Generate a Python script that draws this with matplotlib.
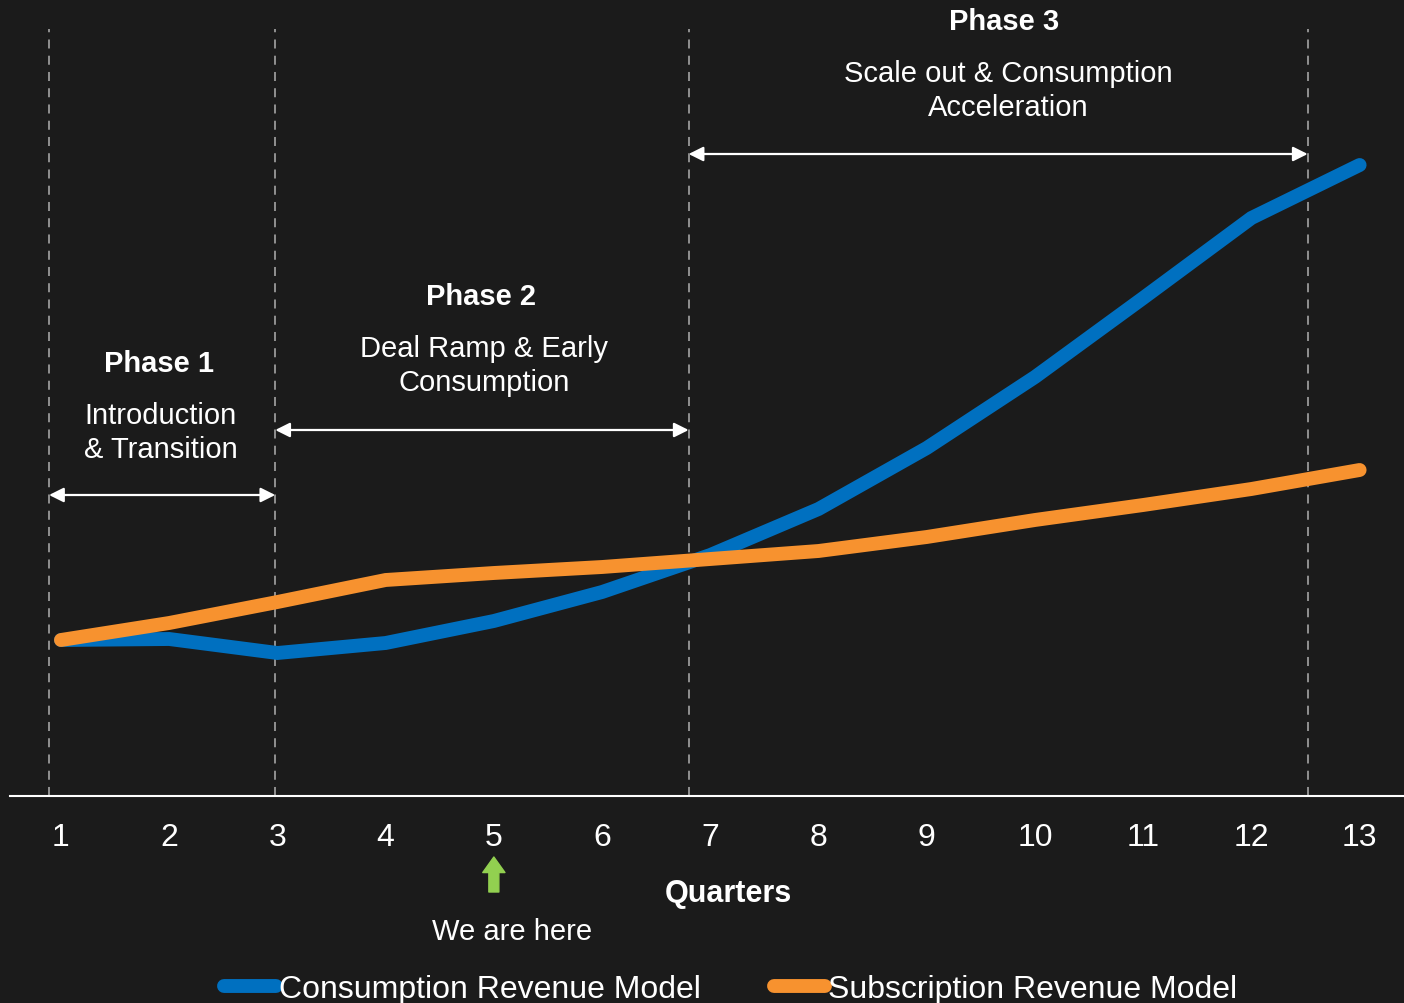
import matplotlib.pyplot as plt
from matplotlib.lines import Line2D

# data (revenue index)
quarters = list(range(1, 14))
consumption = [15.6, 15.7, 14.3, 15.3, 17.5, 20.4, 24.1, 28.7, 34.8, 41.9, 49.8, 57.8, 63.1]
subscription = [15.6, 17.3, 19.4, 21.6, 22.3, 22.9, 23.7, 24.5, 25.9, 27.6, 29.1, 30.7, 32.6]

phase_bounds = [0.89, 2.98, 6.80, 12.52]
phase_titles = ['Phase 1', 'Phase 2', 'Phase 3']
phase_texts = ['Introduction\n& Transition', 'Deal Ramp & Early\nConsumption',
               'Scale out & Consumption\nAcceleration']

bg = '#1b1b1b'
blue = '#0070c0'
orange = '#f7922f'
narrow = ['Liberation Sans Narrow', 'Liberation Sans', 'DejaVu Sans']
wide = ['Liberation Sans', 'DejaVu Sans']

fig = plt.figure(figsize=(14.04, 10.04), dpi=100, facecolor=bg)
ax = fig.add_axes([10/1404, 207/1004, 1394/1404, 797/1004])
ax.set_facecolor(bg)

ax.plot(quarters, consumption, color=blue, lw=10, solid_capstyle='round',
        solid_joinstyle='miter', zorder=3)
ax.plot(quarters, subscription, color=orange, lw=10, solid_capstyle='round',
        solid_joinstyle='miter', zorder=4)

ax.set_xlim(0.529, 13.41)
ax.set_ylim(0, 79.7)

# phase separators
for xb in phase_bounds:
    ax.plot([xb, xb], [0, 76.7], color='#9a9a9a', lw=1.3, ls=(0, (5, 4)), zorder=1)

# phase arrows
arrow_y = [30.1, 36.6, 64.2]
for i in range(3):
    ax.annotate('', xy=(phase_bounds[i+1], arrow_y[i]), xytext=(phase_bounds[i], arrow_y[i]),
                arrowprops=dict(arrowstyle='<|-|>', color='white', lw=1.6,
                                mutation_scale=22, shrinkA=0, shrinkB=0))

# phase labels
title_pos = [(1.906, 43.3), (4.88, 50.0), (9.71, 77.5)]
text_pos = [(1.92, 36.4), (4.91, 43.1), (9.75, 70.6)]
for i in range(3):
    ax.text(*title_pos[i], phase_titles[i], color='white', fontsize=21,
            fontweight='bold', family=wide, ha='center', va='center')
    ax.text(*text_pos[i], phase_texts[i], color='white', fontsize=21,
            family=wide, ha='center', va='center', linespacing=1.3)

for s in ['top', 'left', 'right']:
    ax.spines[s].set_visible(False)
ax.spines['bottom'].set_color('white')
ax.spines['bottom'].set_linewidth(1.5)
ax.set_yticks([])
ax.set_xticks(quarters)
ax.set_xticklabels([str(q) for q in quarters], family=narrow, fontsize=23, color='white')
ax.tick_params(axis='x', length=0, pad=19)

fig.text(728/1404, 1 - 894/1004, 'Quarters', color='white', fontsize=22,
         fontweight='bold', family=narrow, ha='center', va='center')

# "we are here" marker
ax.annotate('', xy=(5, -6.1), xytext=(5, -9.6), annotation_clip=False,
            arrowprops=dict(arrowstyle='simple,head_length=0.7,head_width=1.0,tail_width=0.45',
                            color='#92d050', shrinkA=0, shrinkB=0, mutation_scale=16))
ax.text(5.17, -13.5, 'We are here', color='white', fontsize=21, family=narrow,
        ha='center', va='center', clip_on=False)

handles = [Line2D([], [], color=blue, lw=10, solid_capstyle='round'),
           Line2D([], [], color=orange, lw=10, solid_capstyle='round')]
leg = fig.legend(handles, ['Consumption Revenue Model', 'Subscription Revenue Model'],
                 loc='center', bbox_to_anchor=(731/1404, 14/1004), ncol=2, frameon=False,
                 handlelength=1.6, handletextpad=0.1, columnspacing=2.3,
                 prop={'family': narrow, 'size': 23})
for t in leg.get_texts():
    t.set_color('white')

fig.savefig('out.png', dpi=100, facecolor=bg)
